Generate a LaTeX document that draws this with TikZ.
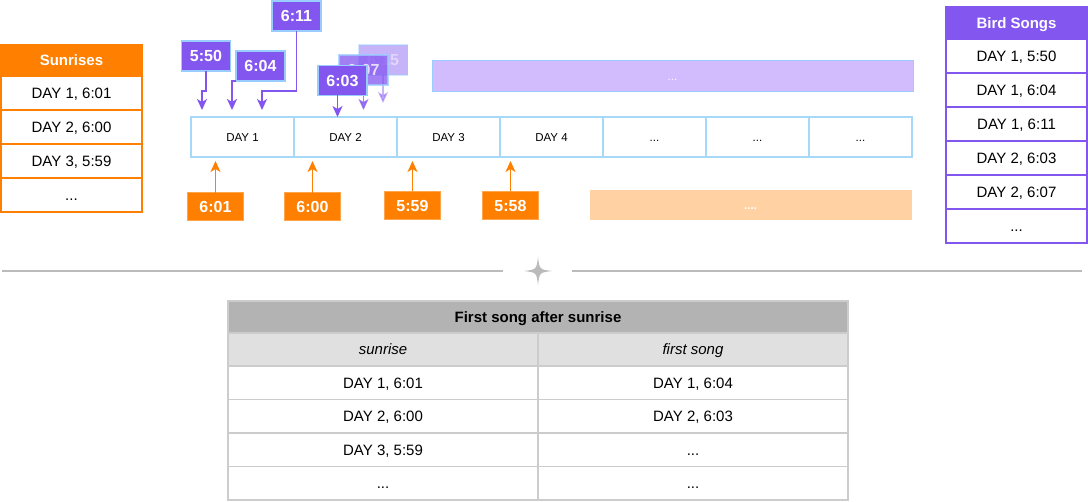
\documentclass[tikz,border=0pt]{standalone}
\usepackage{fontspec}
\setmainfont{Liberation Sans}
\usetikzlibrary{positioning,calc,arrows.meta}
\definecolor{sunorange}{HTML}{FF8000}
\definecolor{sunedge}{HTML}{FFA64D}
\definecolor{sunlight}{HTML}{FFD1A3}
\definecolor{songpurple}{HTML}{8356F0}
\definecolor{songlight}{HTML}{D2BCFE}
\definecolor{dayblue}{HTML}{A6D8F7}
\definecolor{boxblue}{HTML}{99CCFF}
\definecolor{resgray}{HTML}{B3B3B3}
\definecolor{subgray}{HTML}{E0E0E0}
\definecolor{edgegray}{HTML}{CCCCCC}
\definecolor{divgray}{HTML}{BBBBBB}
\newcommand{\tabfont}{\fontsize{15}{18}\selectfont}
\newcommand{\dayfont}{\fontsize{11.5}{14}\selectfont}
\newcommand{\boxfont}{\fontsize{16}{19}\selectfont\bfseries}

\tikzset{
	cellbase/.style={draw, line width=1.5pt, inner sep=0pt, outer sep=0pt, align=center, text height=10.7pt, text depth=0pt},
	sunhead/.style={cellbase, draw=sunorange, fill=sunorange, text=white, font=\tabfont\bfseries, minimum width=141pt, minimum height=31pt},
	suncell/.style={cellbase, draw=sunorange, fill=white, font=\tabfont, minimum width=141pt, minimum height=34pt},
	songhead/.style={cellbase, draw=songpurple, fill=songpurple, text=white, font=\tabfont\bfseries, minimum width=141pt, minimum height=32pt},
	songcell/.style={cellbase, draw=songpurple, fill=white, font=\tabfont, minimum width=141pt, minimum height=34pt},
	daycell/.style={cellbase, text height=8.2pt, draw=dayblue, fill=white, font=\dayfont, minimum width=103pt, minimum height=40pt},
	songbox/.style={cellbase, text height=11.5pt, draw=boxblue, fill=songpurple, text=white, font=\boxfont, minimum width=49pt, minimum height=30pt},
	sunbox/.style={cellbase, text height=11.5pt, line width=1pt, draw=sunedge, fill=sunorange, text=white, font=\boxfont, minimum width=56pt, minimum height=28pt},
	songarrow/.style={draw=songpurple, line width=1.5pt, -{Stealth[length=11pt,width=10pt,inset=3pt]}},
	sunarrow/.style={draw=sunorange, line width=1.5pt, -{Stealth[length=11pt,width=10pt,inset=3pt]}},
	reshead/.style={cellbase, draw=edgegray, fill=resgray, font=\tabfont\bfseries, minimum width=620pt, minimum height=32pt},
	ressub/.style={cellbase, draw=edgegray, fill=subgray, font=\tabfont\itshape, minimum width=310pt, minimum height=33pt},
	rescell/.style={cellbase, draw=edgegray, fill=white, font=\tabfont, minimum width=310pt, minimum height=33.5pt}
}

\begin{document}
\begin{tikzpicture}[x=1pt, y=-1pt]
\useasboundingbox (0,0) rectangle (1088,502);

% sunrises table
\node[sunhead] (sunhd) at (71.5,60.5) {Sunrises};
\node[suncell, below=0pt of sunhd] (sun1) {DAY 1, 6:01};
\node[suncell, below=0pt of sun1] (sun2) {DAY 2, 6:00};
\node[suncell, below=0pt of sun2] (sun3) {DAY 3, 5:59};
\node[suncell, below=0pt of sun3] (sun4) {...};

% bird songs table
\node[songhead] (songhd) at (1016.5,23) {Bird Songs};
\node[songcell, below=0pt of songhd] (song1) {DAY 1, 5:50};
\node[songcell, below=0pt of song1] (song2) {DAY 1, 6:04};
\node[songcell, below=0pt of song2] (song3) {DAY 1, 6:11};
\node[songcell, below=0pt of song3] (song4) {DAY 2, 6:03};
\node[songcell, below=0pt of song4] (song5) {DAY 2, 6:07};
\node[songcell, below=0pt of song5] (song6) {...};

% days
\node[daycell] (d1) at (242.5,137) {DAY 1};
\node[daycell, right=0pt of d1] (d2) {DAY 2};
\node[daycell, right=0pt of d2] (d3) {DAY 3};
\node[daycell, right=0pt of d3] (d4) {DAY 4};
\node[daycell, right=0pt of d4] (d5) {...};
\node[daycell, right=0pt of d5] (d6) {...};
\node[daycell, right=0pt of d6] (d7) {...};

\node[cellbase, text height=8.2pt, line width=1pt, draw=boxblue, fill=songlight, text=white, font=\dayfont, minimum width=481pt, minimum height=31pt] (songmore) at (672.5,76.5) {...};
\node[cellbase, text height=8.2pt, line width=1pt, draw=sunlight, fill=sunlight, text=white, font=\dayfont\bfseries, minimum width=321pt, minimum height=29pt] (sunmore) at (750.5,205.5) {....};

% songs on the days
\node[songbox] (s550) at (206,56) {5:50};
\node[songbox] (s604) at (260.5,66) {6:04};
\node[songbox] (s611) at (296.5,16) {6:11};
\draw[songarrow, shorten >=7pt] (s550.south) -- ++(0,20) -| ([xshift=11pt]d1.north west);
\draw[songarrow, shorten >=7pt] (s604.south west) -| ([xshift=41pt]d1.north west);
\draw[songarrow, shorten >=7pt] (s611.south) -- ++(0,60) -| ([xshift=71pt]d1.north west);

\node[songbox, opacity=0.45] (s615) at (383,60) {6:15};
\draw[songarrow, opacity=0.45, shorten >=14pt] (s615.south) -- (s615.south |- d2.north);
\node[songbox, opacity=0.75] (s607) at (363.5,70) {6:07};
\draw[songarrow, opacity=0.75, shorten >=7pt] (s607.south) -- (s607.south |- d2.north);
\node[songbox] (s603) at (342.5,80.5) {6:03};
\draw[songarrow] ([xshift=-5pt]s603.south) -- ([xshift=-5pt]s603.south |- d2.north);

% sunrises on the days
\node[sunbox] (r601) at (215.5,207) {6:01};
\node[sunbox] (r600) at (312.5,207) {6:00};
\node[sunbox] (r559) at (412.5,205.5) {5:59};
\node[sunbox] (r558) at (510.5,205.5) {5:58};
\draw[sunarrow, shorten >=4pt] (r601) -- (r601 |- d1.south);
\draw[sunarrow, shorten >=4pt] (r600) -- (r600 |- d2.south);
\draw[sunarrow, shorten >=4pt] (r559) -- (r559 |- d3.south);
\draw[sunarrow, shorten >=4pt] (r558) -- (r558 |- d4.south);

% divider
\draw[divgray, line width=1.5pt] (2,271) -- (503,271);
\draw[divgray, line width=1.5pt] (572,271) -- (1082,271);
\fill[divgray] (538,257) .. controls (539.5,269.5) .. (552,271) .. controls (539.5,272.5) .. (538,285) .. controls (536.5,272.5) .. (524,271) .. controls (536.5,269.5) .. (538,257) -- cycle;

% result table
\node[reshead] (reshd) at (538,317) {First song after sunrise};
\node[ressub, below=0pt of reshd.south west, anchor=north west] (subl) {sunrise};
\node[ressub, right=0pt of subl] (subr) {first song};
\node[rescell, below=0pt of subl] (l1) {DAY 1, 6:01};
\node[rescell, below=0pt of subr] (r1) {DAY 1, 6:04};
\node[rescell, below=0pt of l1] (l2) {DAY 2, 6:00};
\node[rescell, below=0pt of r1] (r2) {DAY 2, 6:03};
\node[rescell, below=0pt of l2] (l3) {DAY 3, 5:59};
\node[rescell, below=0pt of r2] (r3) {...};
\node[rescell, below=0pt of l3] (l4) {...};
\node[rescell, below=0pt of r3] (r4) {...};

\end{tikzpicture}
\end{document}
